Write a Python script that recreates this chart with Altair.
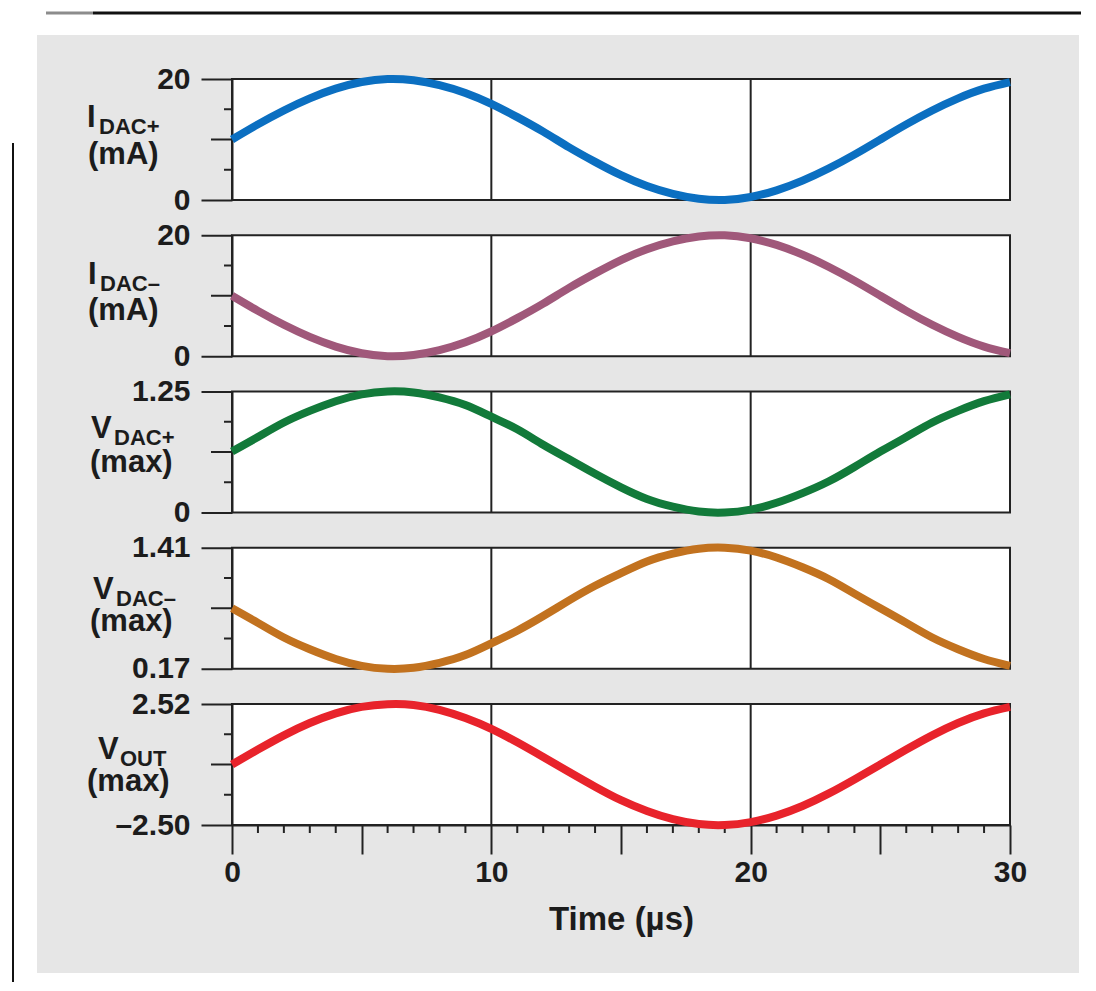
import altair as alt
import pandas as pd

# ---------------- data ----------------
T = list(range(31))  # time, µs
I_DAC_P = [10.0, 12.5, 14.8, 16.8, 18.4, 19.5, 20.0, 19.8, 19.0, 17.7, 15.9, 13.7, 11.3, 8.7, 6.3,
           4.1, 2.3, 1.0, 0.2, 0.0, 0.5, 1.6, 3.2, 5.2, 7.5, 10.0, 12.5, 14.8, 16.8, 18.4, 19.5]
I_DAC_N = [10.0, 7.5, 5.2, 3.2, 1.6, 0.5, 0.0, 0.2, 1.0, 2.3, 4.1, 6.3, 8.7, 11.3, 13.7,
           15.9, 17.7, 19.0, 19.8, 20.0, 19.5, 18.4, 16.8, 14.8, 12.5, 10.0, 7.5, 5.2, 3.2, 1.6, 0.5]
V_DAC_P = [0.63, 0.78, 0.93, 1.05, 1.15, 1.22, 1.25, 1.24, 1.19, 1.11, 0.99, 0.86, 0.70, 0.55, 0.40,
           0.26, 0.14, 0.06, 0.01, 0.00, 0.03, 0.10, 0.20, 0.32, 0.47, 0.63, 0.78, 0.93, 1.05, 1.15, 1.22]
V_DAC_N = [0.79, 0.64, 0.49, 0.37, 0.27, 0.20, 0.17, 0.18, 0.23, 0.31, 0.43, 0.56, 0.71, 0.87, 1.02,
           1.15, 1.27, 1.35, 1.40, 1.41, 1.38, 1.31, 1.21, 1.09, 0.94, 0.79, 0.64, 0.49, 0.37, 0.27, 0.20]
V_OUT = [0.01, 0.63, 1.22, 1.73, 2.13, 2.40, 2.51, 2.48, 2.28, 1.94, 1.49, 0.93, 0.32, -0.30, -0.91,
         -1.47, -1.92, -2.26, -2.46, -2.50, -2.38, -2.11, -1.71, -1.20, -0.61, 0.01, 0.63, 1.22, 1.73, 2.13, 2.40]

SERIES = [I_DAC_P, I_DAC_N, V_DAC_P, V_DAC_N, V_OUT]
Y_LO = [0, 0, 0, 0.17, -2.50]
Y_HI = [20, 20, 1.25, 1.41, 2.52]
LO_LABELS = ["0", "0", "0", "0.17", "–2.50"]
HI_LABELS = ["20", "20", "1.25", "1.41", "2.52"]
COLORS = ["#0b6fc1", "#a0587a", "#127a3a", "#c2721f", "#e8232b"]
MAIN = ["I", "I", "V", "V", "V"]
SUB = ["DAC+", "DAC–", "DAC+", "DAC–", "OUT"]
UNIT = ["(mA)", "(mA)", "(max)", "(max)", "(max)"]

X_MAJOR = [0, 5, 10, 15, 20, 25, 30]
X_MINOR = [t for t in T if t % 5 != 0]
X_GRID = [10, 20]
X_TITLE = "Time (µs)"

# ---------------- layout / style ----------------
W, H = 778, 121
FONT = "Liberation Sans"
INK = "#1c1c1c"
LINE_INK = "#222222"
PANEL_BG = "#e6e6e6"
# title placement per panel (pixels relative to plot origin)
TITLE_POS = [
    dict(mx=-145, sx=-133, my=48, ux=-144, uy=85),
    dict(mx=-144, sx=-132, my=49, ux=-144, uy=85),
    dict(mx=-141, sx=-118, my=46, ux=-142, uy=80),
    dict(mx=-139, sx=-116, my=51, ux=-142, uy=83),
    dict(mx=-134, sx=-112, my=55, ux=-145, uy=87),
]

one = alt.Data(values=[{"k": 1}])


def deco_rect(x, x2, y, y2, color="white"):
    return alt.Chart(one).mark_rect(color=color).encode(
        x=alt.value(x), x2=alt.value(x2), y=alt.value(y), y2=alt.value(y2))


def panel(i):
    last = i == len(SERIES) - 1
    lo, hi = Y_LO[i], Y_HI[i]
    mid = (lo + hi) / 2
    df = pd.DataFrame({"t": T, "v": SERIES[i]})

    xscale = alt.Scale(domain=[0, 30], nice=False, zero=False)
    yscale = alt.Scale(domain=[lo, hi], nice=False, zero=False)
    if last:
        xaxis = alt.Axis(values=X_MAJOR, tickSize=29, labelFontSize=30,
                         labelExpr="datum.value % 10 == 0 ? datum.label : ''",
                         labelFlush=False, labelOverlap=False, labelPadding=3,
                         title=X_TITLE, titleFontSize=33, titleFontWeight="bold",
                         titlePadding=16, format="d")
    else:
        xaxis = None
    yaxis = alt.Axis(values=[lo, hi], tickSize=31, labelFontSize=30, labelPadding=11,
                     labelExpr=f"datum.value < {mid} ? '{LO_LABELS[i]}' : '{HI_LABELS[i]}'",
                     labelOverlap=False, labelFlush=False, title=None)
    X = alt.X("t:Q", scale=xscale, axis=xaxis)
    Y = alt.Y("v:Q", scale=yscale, axis=yaxis)

    layers = []
    if i == 0:
        # white page margins around the grey figure box, header rule, left rule
        layers.append(deco_rect(-224, -195, -71, 905))
        layers.append(deco_rect(-224, 853, -71, -44))
        layers.append(deco_rect(847, 853, -71, 905))
        layers.append(deco_rect(-224, 853, 894, 905))
        layers.append(alt.Chart(one).mark_rule(color="#8c8c8c", strokeWidth=3).encode(
            x=alt.value(-186), x2=alt.value(-139), y=alt.value(-66)))
        layers.append(alt.Chart(one).mark_rule(color="#111111", strokeWidth=3).encode(
            x=alt.value(-139), x2=alt.value(849), y=alt.value(-66)))
        layers.append(alt.Chart(one).mark_rule(color="#111111", strokeWidth=2).encode(
            x=alt.value(-219), y=alt.value(64), y2=alt.value(904)))

    # vertical grid lines at 10 and 20
    layers.append(alt.Chart(pd.DataFrame({"t": X_GRID})).mark_rule(
        color=LINE_INK, strokeWidth=2).encode(x=X, y=alt.value(0), y2=alt.value(H)))

    # y minor ticks
    qdf = pd.DataFrame({"v": [lo + (hi - lo) * 0.25, lo + (hi - lo) * 0.75]})
    mdf = pd.DataFrame({"v": [mid]})
    layers.append(alt.Chart(qdf).mark_rule(color=LINE_INK, strokeWidth=2).encode(
        y=Y, x=alt.value(-8), x2=alt.value(0)))
    layers.append(alt.Chart(mdf).mark_rule(color=LINE_INK, strokeWidth=2).encode(
        y=Y, x=alt.value(-21), x2=alt.value(0)))

    if last:
        layers.append(alt.Chart(pd.DataFrame({"t": X_MINOR})).mark_rule(
            color=LINE_INK, strokeWidth=2).encode(x=X, y=alt.value(H), y2=alt.value(H + 8)))

    # the curve
    layers.append(alt.Chart(df).mark_line(color=COLORS[i], strokeWidth=8,
                                          interpolate="natural").encode(x=X, y=Y))

    # panel title (main letter, subscript, unit)
    p = TITLE_POS[i]
    txt = dict(font=FONT, fontWeight="bold", color=INK, align="left", baseline="alphabetic")
    layers.append(alt.Chart(one).mark_text(text=MAIN[i], fontSize=31, **txt).encode(
        x=alt.value(p["mx"]), y=alt.value(p["my"])))
    layers.append(alt.Chart(one).mark_text(text=SUB[i], fontSize=22, **txt).encode(
        x=alt.value(p["sx"]), y=alt.value(p["my"] + 7)))
    layers.append(alt.Chart(one).mark_text(text=UNIT[i], fontSize=31, **txt).encode(
        x=alt.value(p["ux"]), y=alt.value(p["uy"])))

    return alt.layer(*layers).properties(width=W, height=H)


chart = alt.vconcat(*[panel(i) for i in range(len(SERIES))], spacing=35.25, bounds="flush").properties(
    padding={"left": -1, "top": -1, "right": -3, "bottom": -3}, background=PANEL_BG
).configure_view(
    stroke=LINE_INK, strokeWidth=2, fill="white"
).configure_axis(
    domainColor=LINE_INK, domainWidth=2, tickColor=LINE_INK, tickWidth=2,
    labelFont=FONT, labelFontWeight="bold", labelColor=INK,
    titleFont=FONT, titleColor=INK, grid=False
)

chart.save("out.html", embed_options={"renderer": "svg", "actions": False})
